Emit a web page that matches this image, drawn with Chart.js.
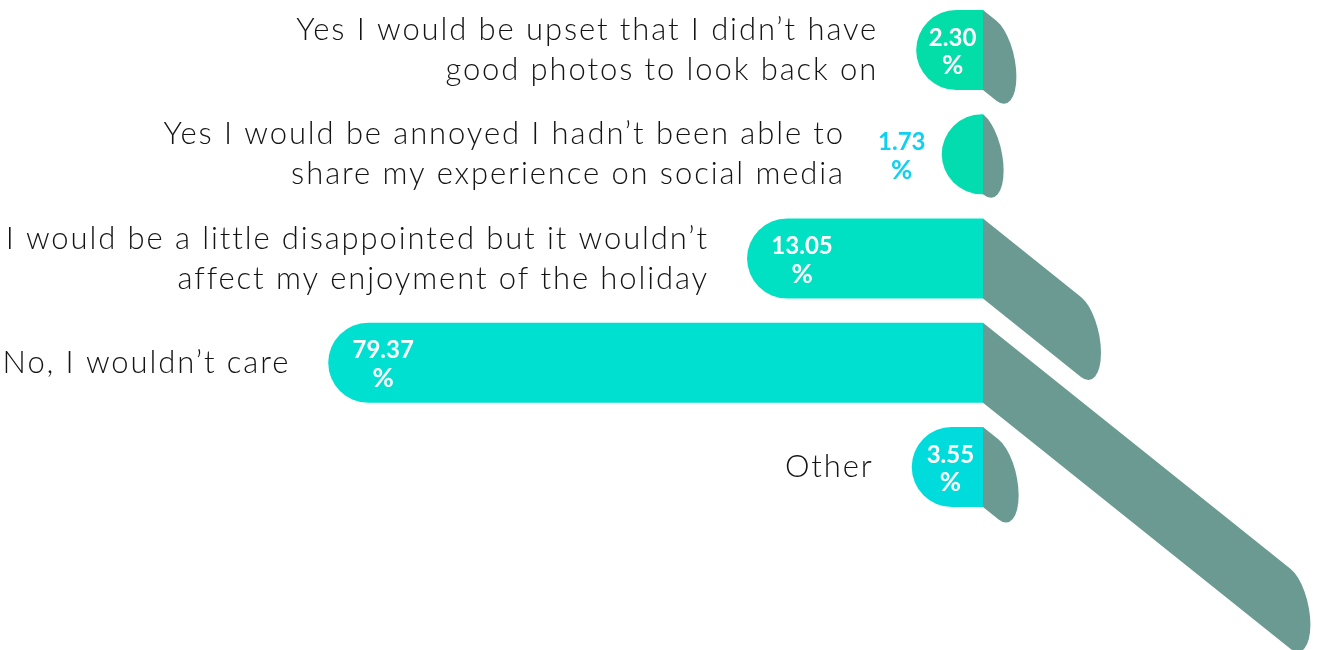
<!DOCTYPE html>
<html>
<head>
<meta charset="utf-8">
<script src="https://cdn.jsdelivr.net/npm/chart.js@4.4.1/dist/chart.umd.min.js"></script>
<style>
  html, body { margin: 0; padding: 0; background: #ffffff; }
  #wrap { width: 1329px; height: 650px; position: relative; }
</style>
</head>
<body>
<div id="wrap"><canvas id="chart" width="1329" height="650"></canvas></div>
<script>
// ---- data ----
const categories = [
  ["Yes I would be upset that I didn\u2019t have", "good photos to look back on"],
  ["Yes I would be annoyed I hadn\u2019t been able to", "share my experience on social media"],
  ["I would be a little disappointed but it wouldn\u2019t", "affect my enjoyment of the holiday"],
  ["No, I wouldn\u2019t care"],
  ["Other"]
];
// percentages printed on the bars
const percentLabels = ["2.30", "1.73", "13.05", "79.37", "3.55"];
// bar extents as drawn in the picture (not proportional to the printed percentages)
const barExtents = [8.1, 5.0, 28.6, 79.37, 8.64];

// ---- styles ----
const barColors = ["#03dea9", "#02dcae", "#00e1c3", "#00e0d0", "#00dcdc"];
const shadowColor = "#6a9a92";
const labelFont = "300 31px Lato";
const valueFont = "700 24px Lato";
const percentFont = "700 26px Lato";

function pillPath(ctx, left, right, top, bottom) {
  const h = bottom - top;
  const ry = h / 2;
  const rx = Math.min(40, right - left);
  const cy = top + ry;
  ctx.beginPath();
  ctx.moveTo(right, top);
  ctx.lineTo(left + rx, top);
  ctx.ellipse(left + rx, cy, rx, ry, 0, -Math.PI / 2, Math.PI / 2, true);
  ctx.lineTo(right, bottom);
  ctx.closePath();
}

// draws each bar (and its slanted shadow) from the geometry the bar scale computed
const pillBarPlugin = {
  id: "pillBars",
  beforeDatasetDraw(chart, args) {
    const ctx = chart.ctx;
    const meta = args.meta;
    const colors = chart.data.datasets[args.index].backgroundColor;
    meta.data.forEach((bar, i) => {
      const p = bar.getProps(["x", "y", "base", "height"], true);
      const w = p.base - p.x;
      const top = p.y - p.height / 2, bottom = p.y + p.height / 2;
      // shadow: mirrored, half-length, sheared downwards
      ctx.save();
      ctx.translate(p.base, 0);
      ctx.transform(-0.5, -0.4, 0, 1, 0, 0);
      pillPath(ctx, -w, 0, top, bottom);
      ctx.fillStyle = shadowColor;
      ctx.fill();
      ctx.restore();
      // bar
      ctx.save();
      pillPath(ctx, p.x, p.base, top, bottom);
      ctx.fillStyle = colors[i];
      ctx.fill();
      ctx.restore();
    });
    return false;
  }
};

const labelPlugin = {
  id: "barLabels",
  afterDatasetsDraw(chart) {
    const ctx = chart.ctx;
    const meta = chart.getDatasetMeta(0);
    meta.data.forEach((bar, i) => {
      const p = bar.getProps(["x", "y", "base", "height"], true);
      const w = p.base - p.x;
      const inside = w >= 50;
      let cx, color;
      if (inside) {
        cx = Math.min(p.x + 55, (p.x + p.base) / 2 + 3);
        color = "#ffffff";
      } else {
        cx = p.x - 40;
        color = "#10d0f0";
      }
      ctx.save();
      ctx.fillStyle = color;
      ctx.textAlign = "center";
      ctx.textBaseline = "middle";
      ctx.font = valueFont;
      ctx.fillText(percentLabels[i], cx, p.y - 12);
      const valW = ctx.measureText(percentLabels[i]).width;
      ctx.font = percentFont;
      ctx.fillText("%", cx, p.y + 16);
      const textRight = inside ? p.x - 38 : cx - valW / 2 - 33;
      ctx.font = labelFont;
      try { ctx.letterSpacing = "1.9px"; } catch (e) {}
      ctx.fillStyle = "#141414";
      ctx.textAlign = "right";
      ctx.textBaseline = "middle";
      const lines = categories[i];
      const lh = 40;
      const startY = p.y - (lines.length - 1) * lh / 2;
      lines.forEach((ln, k) => {
        ctx.fillText(ln, textRight, startY + k * lh);
      });
      ctx.restore();
    });
  }
};

new Chart(document.getElementById("chart"), {
  type: "bar",
  data: {
    labels: categories,
    datasets: [{
      data: barExtents,
      backgroundColor: barColors,
      barThickness: 80,
      borderSkipped: "start",
      borderWidth: 0,
      clip: false
    }]
  },
  options: {
    indexAxis: "y",
    responsive: false,
    animation: false,
    layout: { padding: { left: 158, right: 346, top: 50, bottom: 183 } },
    scales: {
      x: { reverse: true, min: 0, max: 100, display: false },
      y: { display: false, offset: false, grid: { offset: false } }
    },
    plugins: {
      legend: { display: false },
      tooltip: { enabled: false }
    }
  },
  plugins: [pillBarPlugin, labelPlugin]
});
</script>
</body>
</html>
